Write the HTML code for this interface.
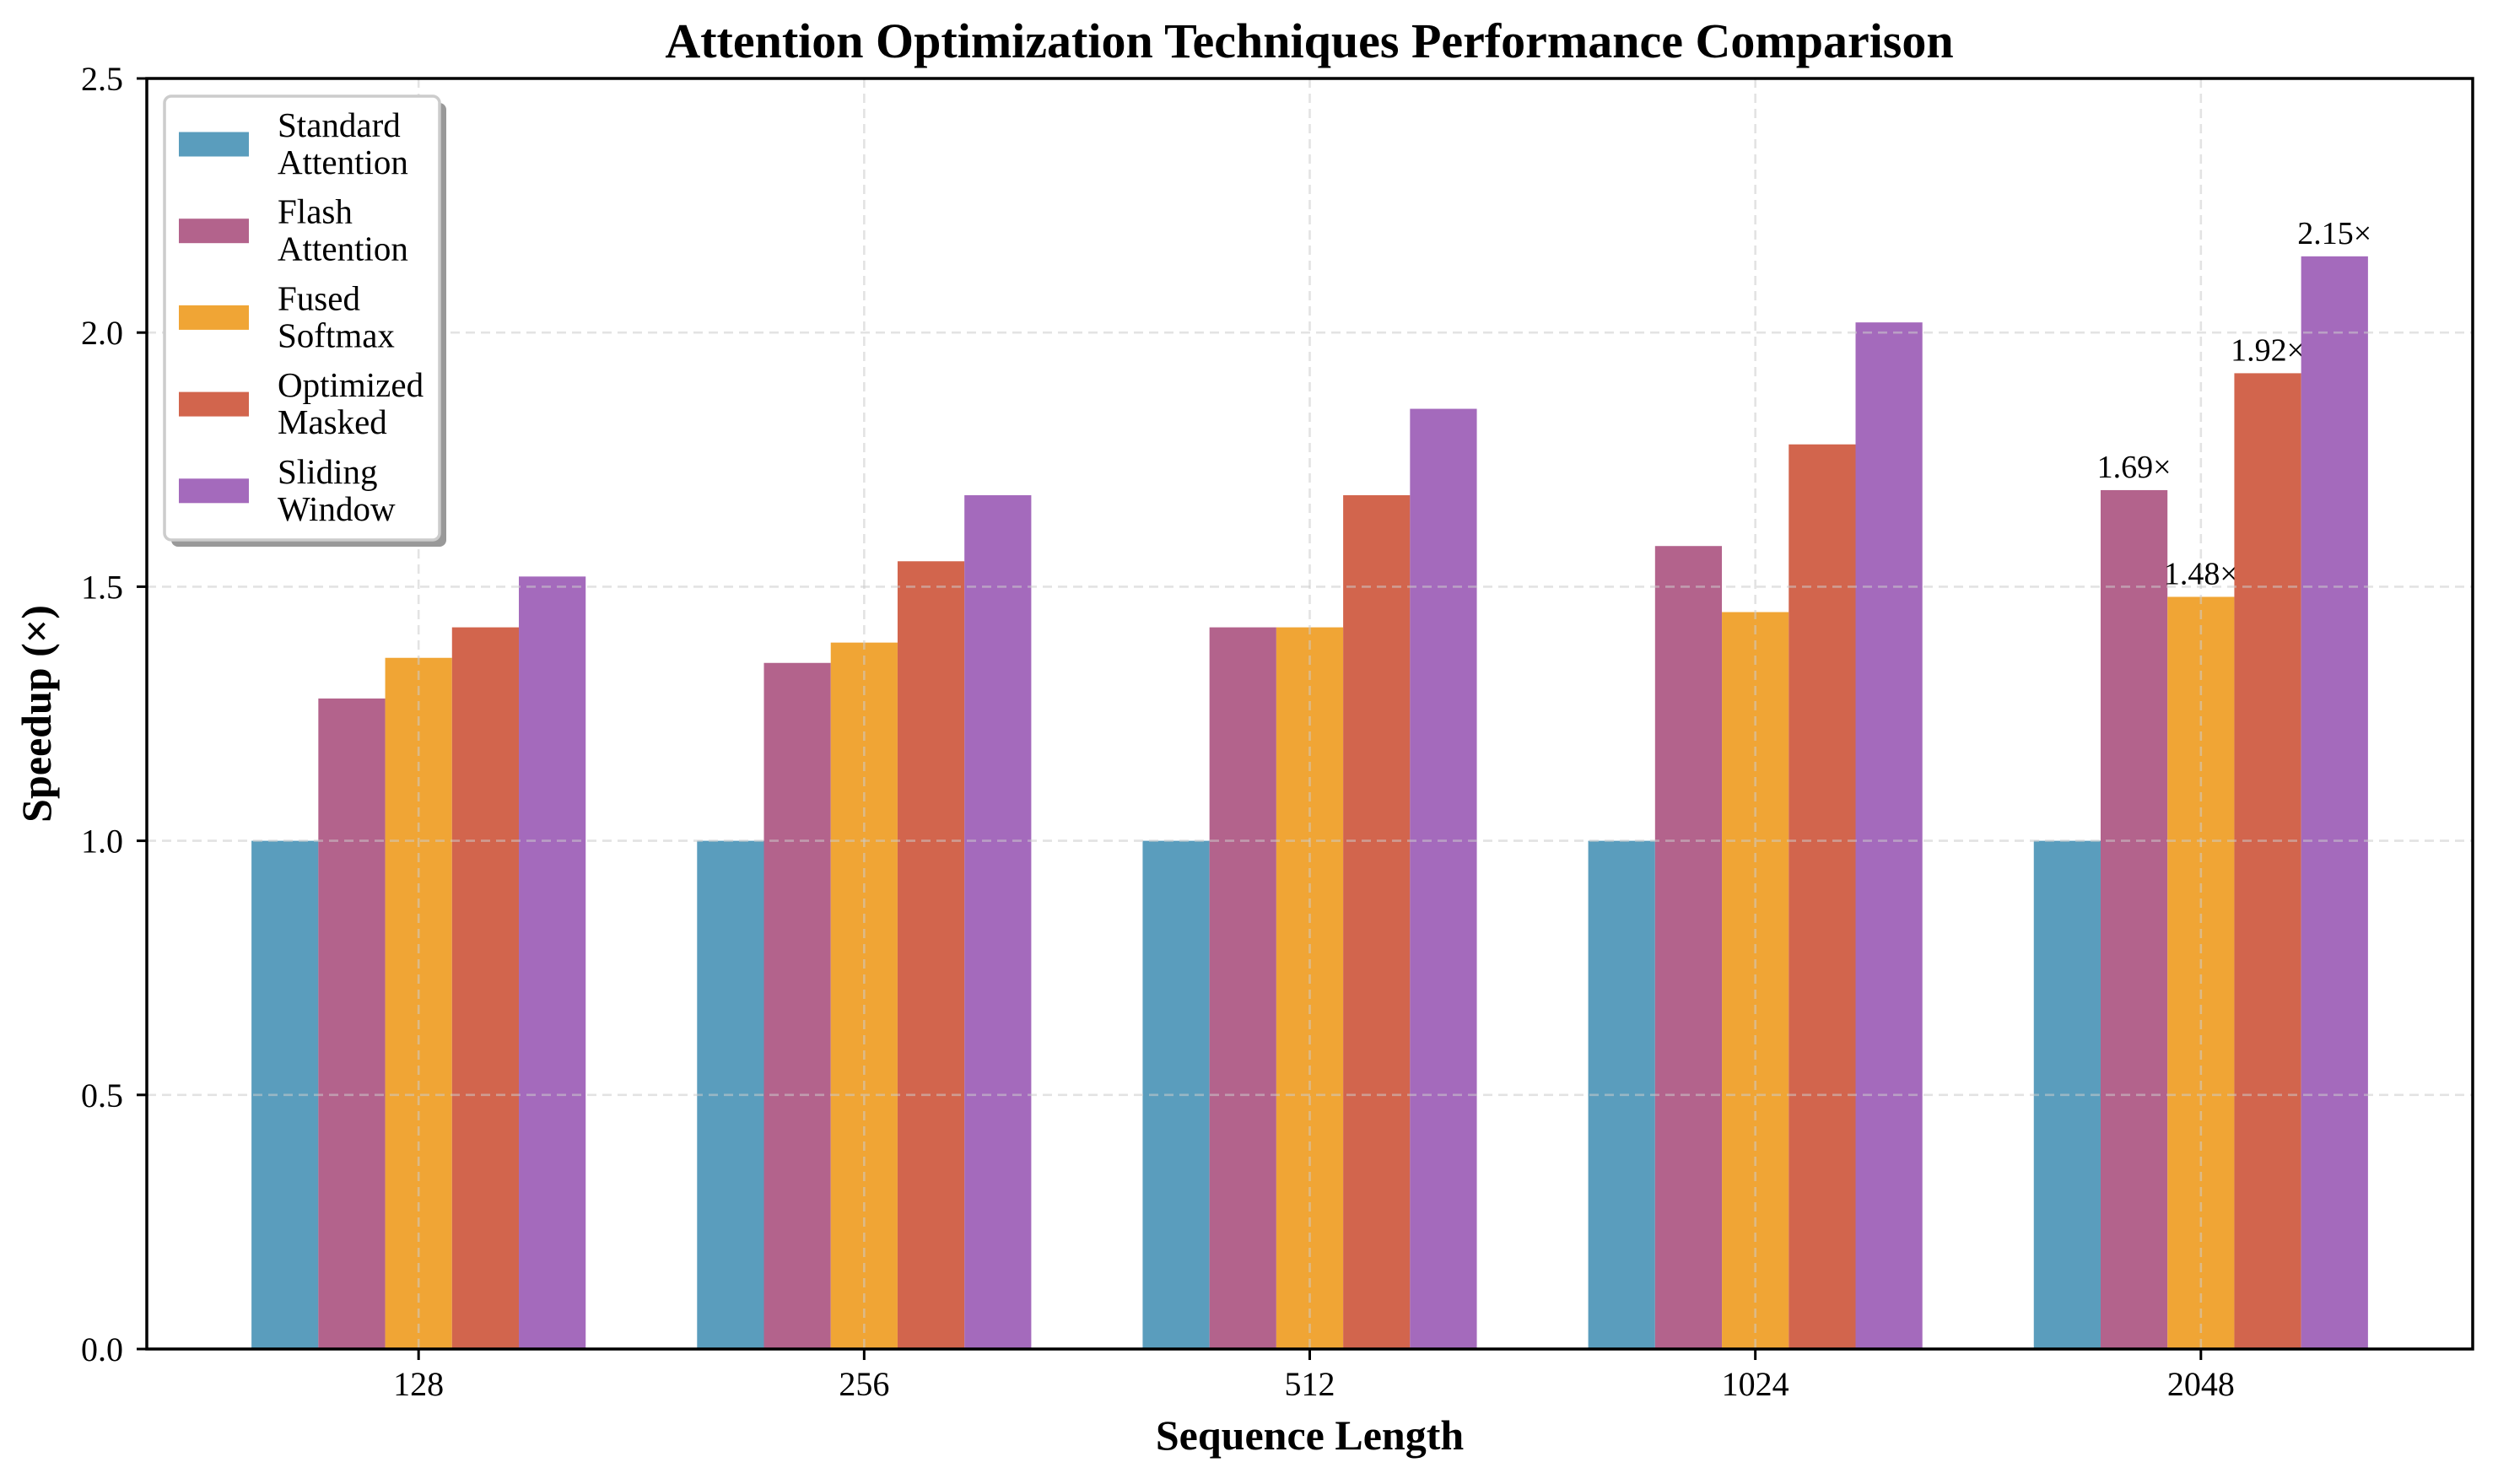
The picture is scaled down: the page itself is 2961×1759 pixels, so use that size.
<!DOCTYPE html>
<html><head><meta charset="utf-8"><style>
html,body{margin:0;padding:0;background:#fff;}
svg{display:block;font-family:"Liberation Serif","DejaVu Serif",serif;}
</style></head><body>
<svg id="chart" width="2961" height="1759" viewBox="0 0 2961 1759" xmlns="http://www.w3.org/2000/svg">
<rect width="2961" height="1759" fill="#fff"/>
<text x="1552" y="68" text-anchor="middle" font-size="58" font-weight="bold">Attention Optimization Techniques Performance Comparison</text>
<g id="grid"></g><g id="bars"></g><g id="gridtop"></g><g id="axes"></g><g id="legend"></g>
</svg>
<script>
const categories = ["128","256","512","1024","2048"];
const seriesNames = [["Standard","Attention"],["Flash","Attention"],["Fused","Softmax"],["Optimized","Masked"],["Sliding","Window"]];
const standardVals = [1.0,1.0,1.0,1.0,1.0];
const flashVals = [1.28,1.35,1.42,1.58,1.69];
const fusedVals = [1.36,1.39,1.42,1.45,1.48];
const maskedVals = [1.42,1.55,1.68,1.78,1.92];
const slidingVals = [1.52,1.68,1.85,2.02,2.15];
const yTicks = ["0.0","0.5","1.0","1.5","2.0","2.5"];
const colors = ["#5A9DBD","#B3638C","#F0A535","#D2654D","#A46ABC"];
const series = [standardVals,flashVals,fusedVals,maskedVals,slidingVals];

const NS="http://www.w3.org/2000/svg";
const L=174,R=2931,T=93,B=1599;
const xMin=-0.61,xMax=4.61,yMax=2.5,bw=0.15;
const X=v=>L+(v-xMin)/(xMax-xMin)*(R-L);
const Y=v=>B-v/yMax*(B-T);
function mk(tag,attrs,parent,text){const e=document.createElementNS(NS,tag);for(const k in attrs)e.setAttribute(k,attrs[k]);if(text!==undefined)e.textContent=text;parent.appendChild(e);return e;}
const grid=document.getElementById('gridtop'),bars=document.getElementById('bars'),axes=document.getElementById('axes'),leg=document.getElementById('legend');
const gs={stroke:"#cccccc","stroke-opacity":"0.55","stroke-width":"2.6","stroke-dasharray":"11,7"};
series.forEach((vals,s)=>{vals.forEach((v,i)=>{
  const x0=X(i+(s-2.5)*bw),x1=X(i+(s-1.5)*bw);
  const r=mk('rect',{x:x0,y:Y(v),width:x1-x0,height:B-Y(v),fill:colors[s]},bars);
  
  
  if(i===categories.length-1&&s>0){
    const t=mk('text',{x:(x0+x1)/2,y:Y(v)-15,"text-anchor":"middle","font-size":"38"},bars,v.toFixed(2)+"×");
    
    
  }
});});
categories.forEach((c,i)=>{mk('line',Object.assign({x1:X(i),x2:X(i),y1:T,y2:B},gs),grid);});
yTicks.forEach(t=>{mk('line',Object.assign({x1:L,x2:R,y1:Y(+t),y2:Y(+t)},gs),grid);});
const fr=mk('rect',{x:L,y:T,width:R-L,height:B-T,fill:"none",stroke:"#000","stroke-width":"3.5"},axes);


yTicks.forEach(t=>{
  mk('line',{x1:L-12,x2:L,y1:Y(+t),y2:Y(+t),stroke:"#000","stroke-width":"3"},axes);
  const e=mk('text',{x:L-28,y:Y(+t)+14,"text-anchor":"end","font-size":"40"},axes,t);
  
  
});
categories.forEach((c,i)=>{
  mk('line',{x1:X(i),x2:X(i),y1:B,y2:B+13,stroke:"#000","stroke-width":"3"},axes);
  const e=mk('text',{x:X(i),y:B+55,"text-anchor":"middle","font-size":"40"},axes,c);
  
  
});
const xl=mk('text',{x:(L+R)/2,y:1718,"text-anchor":"middle","font-size":"50","font-weight":"bold"},axes,"Sequence Length");


const yl=mk('text',{x:0,y:0,transform:"translate(60,"+((T+B)/2)+") rotate(-90)","text-anchor":"middle","font-size":"50","font-weight":"bold"},axes,"Speedup (×)");


mk('rect',{x:203,y:122,width:326,height:526,rx:8,fill:"#999"},leg);
const lb=mk('rect',{x:195,y:114,width:326,height:526,rx:8,fill:"#fff",stroke:"#cccccc","stroke-width":"3.5"},leg);


seriesNames.forEach((n,s)=>{
  const cy=171+s*102.7;
  const g=mk('g',{},leg);
  
  
  mk('rect',{x:212,y:cy-14.5,width:83,height:29,fill:colors[s]},g);
  mk('text',{x:329,y:cy-9,"font-size":"41"},g,n[0]);
  mk('text',{x:329,y:cy+35,"font-size":"41"},g,n[1]);
});
</script>
</body></html>
